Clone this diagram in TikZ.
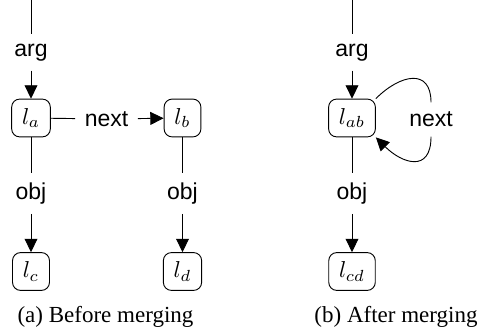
\documentclass[tikz,border=0pt]{standalone}
\usepackage{fontspec}
\setmainfont{Liberation Serif}
\setsansfont{Liberation Sans}
\usetikzlibrary{arrows.meta}

\begin{document}
\begin{tikzpicture}[x=0.4348pt,y=-0.4348pt,
  vert/.style={draw,rounded corners=3.5pt,inner xsep=4.5pt,inner ysep=4pt,minimum height=14.8pt},
  lbl/.style={font=\sffamily,inner sep=4pt},
  arr/.style={-{Triangle[length=5.8pt,width=5.6pt]}}]
\useasboundingbox (0,0) rectangle (483,335);

% (a) before merging
\coordinate (ta) at (31,0);
\node [lbl] (arga) at (31,52.5) {arg};
\node [vert] (la) at (31,118) {$l_a$};
\node [lbl] (nexta) at (106.5,119) {next};
\node [vert] (lb) at (182.5,118) {$l_b$};
\node [lbl] (obja) at (31,193.5) {obj};
\node [vert] (lc) at (31,271.5) {$l_c$};
\node [lbl] (objb) at (182.5,193.5) {obj};
\node [vert] (ld) at (182.5,271.5) {$l_d$};

\draw (ta) -- (arga);
\draw [arr] (arga) -- (la);
\draw (la) -- (nexta);
\draw [arr] (nexta) -- (lb);
\draw (la) -- (obja);
\draw [arr] (obja) -- (lc);
\draw (lb) -- (objb);
\draw [arr] (objb) -- (ld);

\node (capa) at (105.5,316.5) {(a) Before merging};

% (b) after merging
\coordinate (tb) at (352,0);
\node [lbl] (argb) at (352,52.5) {arg};
\node [vert] (lab) at (352,118) {$l_{ab}$};
\node [lbl] (nextb) at (431,119.5) {next};
\node [lbl] (objc) at (352,193.5) {obj};
\node [vert] (lcd) at (352,271.5) {$l_{cd}$};

\draw (tb) -- (argb);
\draw [arr] (argb) -- (lab);
\draw (lab.north east) to [out=45,in=90,looseness=1.6] (nextb.north);   % loop, upper half
\draw [arr] (nextb.south) to [out=-90,in=-45,looseness=1.7] (lab.south east);
\draw (lab) -- (objc);
\draw [arr] (objc) -- (lcd);

\node (capb) at (396,316.5) {(b) After merging};

\end{tikzpicture}
\end{document}
